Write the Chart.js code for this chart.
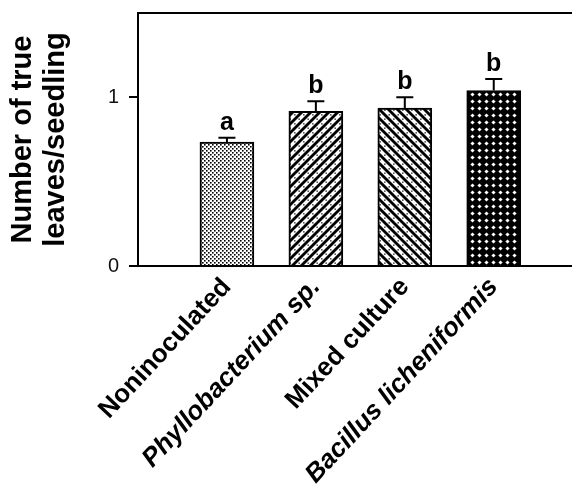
<!DOCTYPE html>
<html>
<head>
<meta charset="utf-8">
<script src="https://cdn.jsdelivr.net/npm/chart.js@4"></script>
<style>
  html, body { margin: 0; padding: 0; background: #fff; }
  #wrap { width: 572px; height: 490px; }
</style>
</head>
<body>
<div id="wrap"><canvas id="chart"></canvas></div>
<script>
// data
const categories = ['Noninoculated', 'Phyllobacterium sp.', 'Mixed culture', 'Bacillus licheniformis'];
const xPos = [1, 2, 3, 4];
const means = [0.735, 0.917, 0.937, 1.04];
const errors = [0.025, 0.06, 0.063, 0.068];
const letters = ['a', 'b', 'b', 'b'];
const yTicks = [0, 1];
const italicLabels = [false, true, false, true];

const FONT = 'Arial, "Liberation Sans", sans-serif';

function makeTile(size, draw) {
    const c = document.createElement('canvas');
    c.width = size; c.height = size;
    const g = c.getContext('2d');
    draw(g, size);
    return c.getContext('2d').createPattern(c, 'repeat');
}

const ctx = document.getElementById('chart').getContext('2d');

// fill patterns like the scanned hatching
const patDots = makeTile(4, (g) => {
    g.fillStyle = '#fff'; g.fillRect(0, 0, 4, 4);
    g.fillStyle = '#000';
    g.fillRect(0, 0, 1.6, 1.6);
    g.fillRect(2, 2, 1.6, 1.6);
});
function stripes(g, s, dir) {
    g.fillStyle = '#fff'; g.fillRect(0, 0, s, s);
    g.strokeStyle = '#000'; g.lineWidth = 2.8;
    g.save();
    if (dir < 0) { g.translate(s, 0); g.scale(-1, 1); }
    [[-1, s + 1, s + 1, -1], [-1, 1, 1, -1], [s - 1, s + 1, s + 1, s - 1]].forEach(l => {
        g.beginPath(); g.moveTo(l[0], l[1]); g.lineTo(l[2], l[3]); g.stroke();
    });
    g.fillStyle = '#000';
    g.fillRect(1.5, 1.5, 1.3, 1.3);
    g.fillRect(6.2, 6.2, 1.3, 1.3);
    g.restore();
}
const patFwd = makeTile(9, (g, s) => stripes(g, s, 1));
const patBack = makeTile(9, (g, s) => stripes(g, s, -1));
const patCross = makeTile(7, (g) => {
    g.fillStyle = '#000'; g.fillRect(0, 0, 7, 7);
    g.fillStyle = '#fff';
    g.beginPath();
    g.moveTo(3.5, 1.4); g.lineTo(5.6, 3.5); g.lineTo(3.5, 5.6); g.lineTo(1.4, 3.5);
    g.closePath(); g.fill();
});

const extras = {
    id: 'extras',
    afterDatasetsDraw(chart) {
        const { ctx, chartArea, scales: { x, y } } = chart;
        ctx.save();
        // top frame line
        ctx.strokeStyle = '#000';
        ctx.lineWidth = 2;
        ctx.beginPath();
        ctx.moveTo(chartArea.left - 1, chartArea.top);
        ctx.lineTo(chartArea.right, chartArea.top);
        ctx.stroke();

        // upper error bars and significance letters
        ctx.lineWidth = 2;
        ctx.fillStyle = '#000';
        ctx.font = 'bold 25px ' + FONT;
        ctx.textAlign = 'center';
        ctx.textBaseline = 'alphabetic';
        means.forEach((m, i) => {
            const px = x.getPixelForValue(xPos[i]);
            const y0 = y.getPixelForValue(m);
            const y1 = y.getPixelForValue(m + errors[i]);
            ctx.beginPath();
            ctx.moveTo(px, y0);
            ctx.lineTo(px, y1);
            ctx.moveTo(px - 8.5, y1);
            ctx.lineTo(px + 8.5, y1);
            ctx.stroke();
            ctx.fillText(letters[i], px, y1 - 8);
        });
        ctx.restore();
    }
};

new Chart(ctx, {
    type: 'bar',
    data: {
        datasets: [{
            data: xPos.map((v, i) => ({ x: v, y: means[i] })),
            backgroundColor: [patDots, patFwd, patBack, patCross],
            borderColor: '#000',
            borderWidth: 2,
            borderSkipped: 'bottom',
            barThickness: 54
        }]
    },
    options: {
        responsive: true,
        maintainAspectRatio: false,
        animation: false,
        layout: { padding: { top: 13, left: 0, right: 0, bottom: 0 } },
        plugins: {
            legend: { display: false },
            tooltip: { enabled: false }
        },
        scales: {
            x: {
                type: 'linear',
                offset: false,
                min: 0,
                max: 4.88,
                afterBuildTicks: (scale) => { scale.ticks = xPos.map(v => ({ value: v })); },
                afterFit: (scale) => {
                    scale.height = 224;
                    scale.paddingLeft = 0;
                    scale.paddingRight = 0;
                },
                grid: { display: false },
                border: { display: true, color: '#000', width: 2 },
                ticks: {
                    autoSkip: false,
                    minRotation: 47,
                    maxRotation: 47,
                    padding: -2,
                    color: '#000',
                    font: (c) => ({
                        family: FONT,
                        size: 26,
                        weight: 'bold',
                        style: italicLabels[c.index] ? 'italic' : 'normal'
                    }),
                    callback: (v) => categories[v - 1]
                }
            },
            y: {
                min: 0,
                max: 1.5,
                afterBuildTicks: (scale) => { scale.ticks = yTicks.map(v => ({ value: v })); },
                afterFit: (scale) => {
                    scale.width = 138;
                    scale.paddingTop = 0;
                    scale.paddingBottom = 0;
                },
                grid: {
                    drawOnChartArea: false,
                    drawTicks: true,
                    tickLength: 9,
                    color: '#000',
                    lineWidth: 2
                },
                border: { display: true, color: '#000', width: 2 },
                ticks: {
                    padding: 10,
                    color: '#111',
                    font: { family: FONT, size: 20 }
                },
                title: {
                    display: true,
                    text: ['Number of true', 'leaves/seedling'],
                    color: '#000',
                    font: { family: FONT, size: 29, weight: 'bold', lineHeight: 1.15 },
                    padding: { top: 6, bottom: 0 }
                }
            }
        }
    },
    plugins: [extras]
});
</script>
</body>
</html>
